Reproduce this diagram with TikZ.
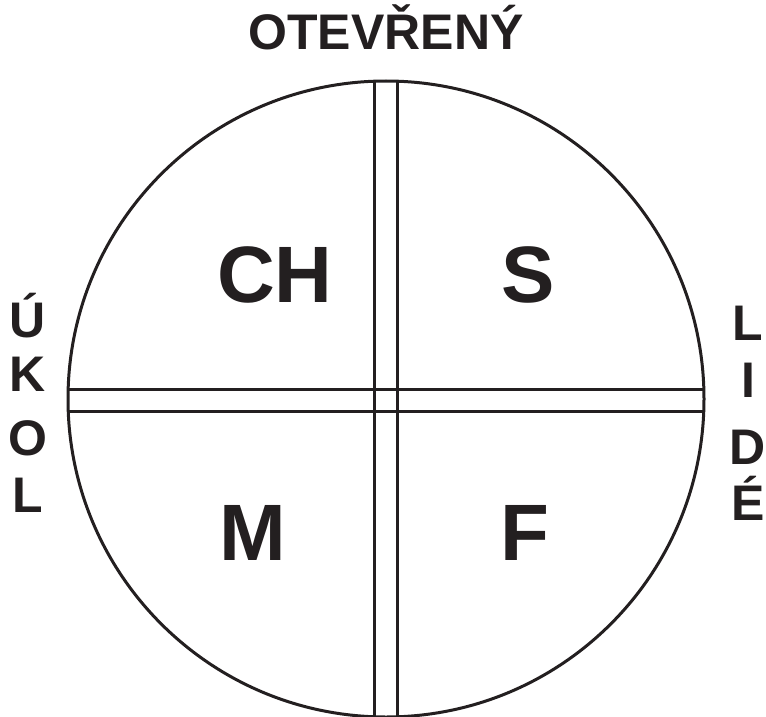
\documentclass[tikz,border=0pt]{standalone}
\usepackage{fontspec}
\setsansfont{Liberation Sans}
\begin{document}
\begin{tikzpicture}[
    x=1pt, y=-1pt,
    cara/.style={draw=tmava, line width=3pt},
    strana/.style={color=tmava, font=\bfseries\sffamily\fontsize{50}{60}\selectfont, anchor=base, inner sep=0pt},
    pismeno/.style={color=tmava, font=\bfseries\sffamily\fontsize{80}{96}\selectfont, anchor=base, inner sep=0pt}
    ]
    % Definice barev
    \definecolor{tmava}{RGB}{35, 31, 32}
    \useasboundingbox (0,0) rectangle (766,717);

    % Kruh a dvojite cary
    \coordinate (stred) at (386,399);
    \begin{scope}
        \clip (stred) circle (318);
        \draw[cara] (374.5,0) -- (374.5,717);
        \draw[cara] (397,0) -- (397,717);
        \draw[cara] (0,389) -- (766,389);
        \draw[cara] (0,411) -- (766,411);
    \end{scope}
    \draw[cara] (stred) circle (318);

    % Nadpis nahore
    \node[strana] (otevreny) at (386,50) {OTEVŘENÝ};

    % Levy popis
    \node[strana] (u) at (28,337) {Ú};
    \node[strana] (k) at (28,391) {K};
    \node[strana] (o) at (28,455) {O};
    \node[strana] (l) at (28,512) {L};

    % Pravy popis
    \node[strana] (l2) at (748,340) {L};
    \node[strana] (i) at (748,397) {I};
    \node[strana] (d) at (748,464) {D};
    \node[strana] (e) at (748,520) {É};

    % Kvadranty
    \node[pismeno] (ch) at (275,302) {CH};
    \node[pismeno] (s) at (528,302) {S};
    \node[pismeno] (m) at (253,560) {M};
    \node[pismeno] (f) at (525,560) {F};
\end{tikzpicture}
\end{document}
